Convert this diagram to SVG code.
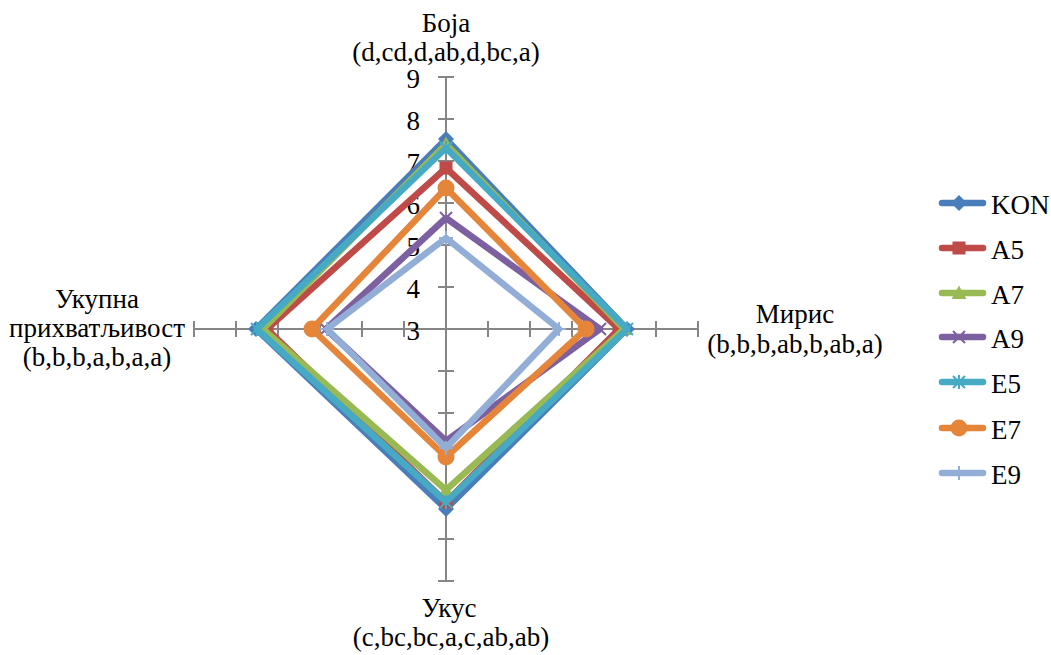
<svg xmlns="http://www.w3.org/2000/svg" width="1051" height="655" viewBox="0 0 1051 655">
<marker id="mk-kon" markerUnits="userSpaceOnUse" markerWidth="20" markerHeight="20" viewBox="0 0 20 20" refX="10" refY="10" orient="0"><polygon points="10,2 18,10 10,18 2,10" fill="#4A7EBB"/></marker>
<marker id="mk-a5" markerUnits="userSpaceOnUse" markerWidth="20" markerHeight="20" viewBox="0 0 20 20" refX="10" refY="10" orient="0"><rect x="3.5" y="3.5" width="13" height="13" fill="#BE4B48"/></marker>
<marker id="mk-a7" markerUnits="userSpaceOnUse" markerWidth="20" markerHeight="20" viewBox="0 0 20 20" refX="10" refY="10" orient="0"><polygon points="10,2.5 17.5,16 2.5,16" fill="#98B954"/></marker>
<marker id="mk-a9" markerUnits="userSpaceOnUse" markerWidth="20" markerHeight="20" viewBox="0 0 20 20" refX="10" refY="10" orient="0"><path d="M4,4L16,16M4,16L16,4" stroke="#7D60A0" stroke-width="2" fill="none"/></marker>
<marker id="mk-e5" markerUnits="userSpaceOnUse" markerWidth="20" markerHeight="20" viewBox="0 0 20 20" refX="10" refY="10" orient="0"><path d="M4,4L16,16M4,16L16,4M10,3V17" stroke="#46AAC5" stroke-width="2" fill="none"/></marker>
<marker id="mk-e7" markerUnits="userSpaceOnUse" markerWidth="20" markerHeight="20" viewBox="0 0 20 20" refX="10" refY="10" orient="0"><circle cx="10" cy="10" r="8.5" fill="#E5853A"/></marker>
<marker id="mk-e9" markerUnits="userSpaceOnUse" markerWidth="20" markerHeight="20" viewBox="0 0 20 20" refX="10" refY="10" orient="0"><path d="M3,10H17M10,3V17" stroke="#93AED6" stroke-width="2" fill="none"/></marker>
<g id="axes">
<path stroke="#868686" stroke-width="2" fill="none" d="M446,77V581M194,329H698M438,287H454M438,245H454M438,203H454M438,161H454M438,119H454M438,77H454M438,371H454M438,413H454M438,455H454M438,497H454M438,539H454M438,581H454M488,321V337M530,321V337M572,321V337M614,321V337M656,321V337M698,321V337M404,321V337M362,321V337M320,321V337M278,321V337M236,321V337M194,321V337"/>
<text style="font-family:'Liberation Serif',serif;font-size:27px;text-anchor:end" x="420" y="88">9</text>
<text style="font-family:'Liberation Serif',serif;font-size:27px;text-anchor:end" x="420" y="130">8</text>
<text style="font-family:'Liberation Serif',serif;font-size:27px;text-anchor:end" x="420" y="172">7</text>
<text style="font-family:'Liberation Serif',serif;font-size:27px;text-anchor:end" x="420" y="214">6</text>
<text style="font-family:'Liberation Serif',serif;font-size:27px;text-anchor:end" x="420" y="256">5</text>
<text style="font-family:'Liberation Serif',serif;font-size:27px;text-anchor:end" x="420" y="298">4</text>
<text style="font-family:'Liberation Serif',serif;font-size:27px;text-anchor:end" x="420" y="340">3</text>
</g>
<g id="label-boja"><text style="font-family:'Liberation Serif',serif;font-size:27px;text-anchor:middle" x="446" y="32">Боја</text><text style="font-family:'Liberation Serif',serif;font-size:27px;text-anchor:middle" x="446" y="61">(d,cd,d,ab,d,bc,a)</text></g>
<g id="label-miris"><text style="font-family:'Liberation Serif',serif;font-size:27px;text-anchor:middle" x="795" y="323">Мирис</text><text style="font-family:'Liberation Serif',serif;font-size:27px;text-anchor:middle" x="795" y="353">(b,b,b,ab,b,ab,a)</text></g>
<g id="label-ukus"><text style="font-family:'Liberation Serif',serif;font-size:27px;text-anchor:middle" x="449" y="617">Укус</text><text style="font-family:'Liberation Serif',serif;font-size:27px;text-anchor:middle" x="451" y="646">(c,bc,bc,a,c,ab,ab)</text></g>
<g id="label-ukupna"><text style="font-family:'Liberation Serif',serif;font-size:27px;text-anchor:middle" x="97" y="308">Укупна</text><text style="font-family:'Liberation Serif',serif;font-size:27px;text-anchor:middle" x="97" y="337">прихватљивост</text><text style="font-family:'Liberation Serif',serif;font-size:27px;text-anchor:middle" x="97" y="366">(b,b,b,a,b,a,a)</text></g>
<g id="connectors" fill="none" stroke-width="6.5" stroke-linejoin="round" stroke-linecap="round">
<polygon id="series-KON" stroke="#4A7EBB" marker-start="url(#mk-kon)" marker-mid="url(#mk-kon)" points="446,139 627,329 446,509 256,329"/>
<polygon id="series-A5" stroke="#BE4B48" marker-start="url(#mk-a5)" marker-mid="url(#mk-a5)" points="446,168 619,329 446,502 267,329"/>
<polygon id="series-A7" stroke="#98B954" marker-start="url(#mk-a7)" marker-mid="url(#mk-a7)" points="446,144 624,329 446,490 263,329"/>
<polygon id="series-A9" stroke="#7D60A0" marker-start="url(#mk-a9)" marker-mid="url(#mk-a9)" points="446,218 600,329 446,441 326,329"/>
<polygon id="series-E5" stroke="#46AAC5" marker-start="url(#mk-e5)" marker-mid="url(#mk-e5)" points="446,148 627,329 446,502 257,329"/>
<polygon id="series-E7" stroke="#E5853A" marker-start="url(#mk-e7)" marker-mid="url(#mk-e7)" points="446,188 586,329 446,457 312,329"/>
<polygon id="series-E9" stroke="#93AED6" marker-start="url(#mk-e9)" marker-mid="url(#mk-e9)" points="446,238 559,329 446,448 327,329"/>
</g>
<g id="legend">
<g id="leg-KON"><polyline fill="none" stroke-width="6.5" stroke-linecap="round" stroke="#4A7EBB" marker-mid="url(#mk-kon)" points="942,203 959,203 983,203"/><text style="font-family:'Liberation Serif',serif;font-size:27px" x="991" y="214">KON</text></g>
<g id="leg-A5"><polyline fill="none" stroke-width="6.5" stroke-linecap="round" stroke="#BE4B48" marker-mid="url(#mk-a5)" points="942,248 959,248 983,248"/><text style="font-family:'Liberation Serif',serif;font-size:27px" x="991" y="259">A5</text></g>
<g id="leg-A7"><polyline fill="none" stroke-width="6.5" stroke-linecap="round" stroke="#98B954" marker-mid="url(#mk-a7)" points="942,293 959,293 983,293"/><text style="font-family:'Liberation Serif',serif;font-size:27px" x="991" y="304">A7</text></g>
<g id="leg-A9"><polyline fill="none" stroke-width="6.5" stroke-linecap="round" stroke="#7D60A0" marker-mid="url(#mk-a9)" points="942,337 959,337 983,337"/><text style="font-family:'Liberation Serif',serif;font-size:27px" x="991" y="348">A9</text></g>
<g id="leg-E5"><polyline fill="none" stroke-width="6.5" stroke-linecap="round" stroke="#46AAC5" marker-mid="url(#mk-e5)" points="942,382 959,382 983,382"/><text style="font-family:'Liberation Serif',serif;font-size:27px" x="991" y="393">E5</text></g>
<g id="leg-E7"><polyline fill="none" stroke-width="6.5" stroke-linecap="round" stroke="#E5853A" marker-mid="url(#mk-e7)" points="942,428 959,428 983,428"/><text style="font-family:'Liberation Serif',serif;font-size:27px" x="991" y="439">E7</text></g>
<g id="leg-E9"><polyline fill="none" stroke-width="6.5" stroke-linecap="round" stroke="#93AED6" marker-mid="url(#mk-e9)" points="942,473 959,473 983,473"/><text style="font-family:'Liberation Serif',serif;font-size:27px" x="991" y="484">E9</text></g>
</g>
</svg>
